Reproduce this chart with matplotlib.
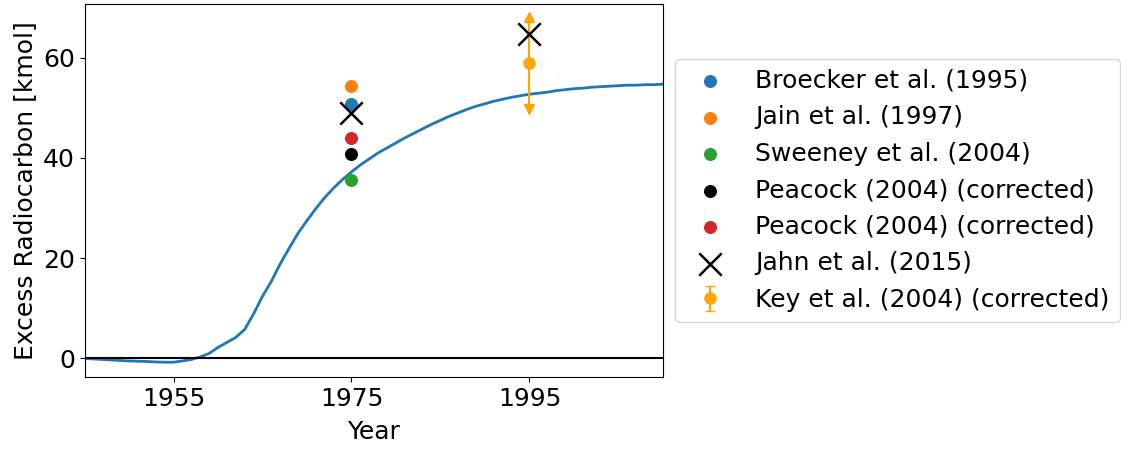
#!/usr/bin/env python3

"""
Excess radiocarbon inventory from the model run, compared against the
observational estimates from the literature (1975 and 1995 surveys).
"""

import numpy as np
import matplotlib
matplotlib.use("Agg")
import matplotlib.pyplot as plt

# MODEL OUTPUT:
#---------------------------------------------------------------------------------------------------------
years = np.arange(1945, 2011)
excess_c14 = [0.0, -0.1, -0.2, -0.3, -0.4, -0.5, -0.55, -0.6, -0.7, -0.75,    # 1945-1954
              -0.75, -0.5, -0.2, 0.3, 1.0, 2.2, 3.2, 4.2, 5.8, 8.9,         # 1955-1964
              12.4, 15.4, 18.9, 22.0, 25.0, 27.5, 29.9, 32.1, 34.0, 35.7,   # 1965-1974
              37.2, 38.6, 39.8, 41.0, 42.0, 43.0, 44.0, 44.9, 45.8, 46.7,   # 1975-1984
              47.5, 48.3, 49.0, 49.7, 50.3, 50.8, 51.3, 51.7, 52.1, 52.4,   # 1985-1994
              52.7, 52.9, 53.1, 53.4, 53.6, 53.8, 53.9, 54.1, 54.2, 54.3,   # 1995-2004
              54.4, 54.5, 54.5, 54.6, 54.6, 54.7]                           # 2005-2010

# OBSERVATIONAL ESTIMATES (kmol):
#---------------------------------------------------------------------------------------------------------
broecker_year, broecker_val = [1975], [50.7]
jain_year, jain_val = [1975], [54.3]
sweeney_year, sweeney_val = [1975], [35.6]
peacock_year, peacock_val = [1975], [40.7]
peacock2_year, peacock2_val = [1975], [43.9]
jahn_years, jahn_vals = [1975, 1995], [49.0, 64.8]
key_year, key_val, key_err = [1995], [58.9], [9.1]

# PLOT:
#---------------------------------------------------------------------------------------------------------
plt.rcParams["font.size"] = 18

fig = plt.figure(figsize=(11.21, 4.50), dpi=100)
ax = fig.add_axes([0.0754, 0.1622, 0.516, 0.829])

ax.plot(years, excess_c14, color="C0", lw=2)
ax.axhline(0, color="k", lw=1.5)

dot = 70
ax.scatter(broecker_year, broecker_val, s=dot, color="C0", zorder=3, label="Broecker et al. (1995)")
ax.scatter(jain_year, jain_val, s=dot, color="C1", zorder=3, label="Jain et al. (1997)")
ax.scatter(sweeney_year, sweeney_val, s=dot, color="C2", zorder=3, label="Sweeney et al. (2004)")
ax.scatter(peacock_year, peacock_val, s=dot, color="k", zorder=3, label="Peacock (2004) (corrected)")
ax.scatter(peacock2_year, peacock2_val, s=dot, color="C3", zorder=3, label="Peacock (2004) (corrected)")
ax.scatter(jahn_years, jahn_vals, s=260, marker="x", color="k", linewidths=1.8, zorder=4,
           label="Jahn et al. (2015)")

# Key et al. range drawn with arrow heads at both ends
eb = ax.errorbar(key_year, key_val, yerr=key_err, fmt="o", color="orange", ms=8,
                 capsize=3.6, zorder=3, label="Key et al. (2004) (corrected)")
caps = eb[1]
caps[0].set_marker("v")
caps[1].set_marker("^")

ax.set_xlim(1945, 2010)
ax.set_ylim(-3.7, 70.7)
ax.set_xticks([1955, 1975, 1995])
ax.set_yticks([0, 20, 40, 60])
ax.set_xlabel("Year", labelpad=7)
ax.set_ylabel("Excess Radiocarbon [kmol]")

ax.legend(loc="center left", bbox_to_anchor=(1.0, 0.5), fontsize=18)

fig.savefig("out.png", dpi=100)
